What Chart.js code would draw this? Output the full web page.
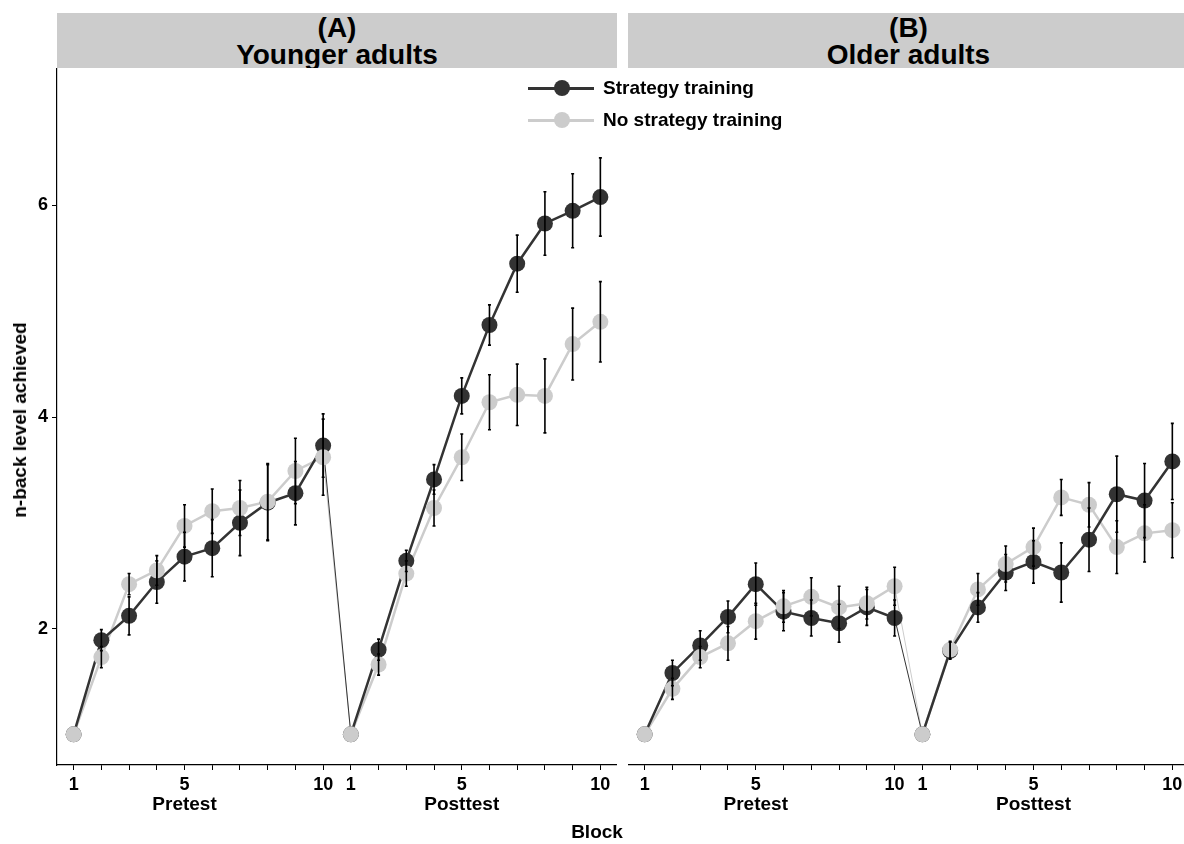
<!DOCTYPE html>
<html lang="en">
<head>
    <meta charset="UTF-8">
    <title>n-back level achieved by block</title>
    <script src="https://cdn.jsdelivr.net/npm/chart.js"></script>
    <style>
        body {
            margin: 0;
            width: 1184px;
            height: 844px;
            overflow: hidden;
            background: #fff;
            font-family: "Liberation Sans", Arial, sans-serif;
            font-weight: bold;
            color: #000;
            position: relative;
        }
        canvas { position: absolute; top: 68px; }
        #chartA { left: 0; }
        #chartB { left: 628px; }
        .strip {
            position: absolute;
            top: 13px;
            height: 55px;
            background: #cccccc;
            overflow: hidden;
            text-align: center;
            font-size: 28px;
            line-height: 27px;
            padding-top: 1px;
            box-sizing: border-box;
        }
        #stripA { left: 57px; width: 560px; }
        #stripB { left: 628px; width: 561px; }
        #yTitle {
            position: absolute;
            left: 20px;
            top: 420px;
            transform: translate(-50%, -50%) rotate(-90deg);
            font-size: 19px;
            white-space: nowrap;
        }
        #xTitle {
            position: absolute;
            left: 597px;
            top: 832px;
            transform: translate(-50%, -50%);
            font-size: 19px;
        }
        .legend-row {
            position: absolute;
            left: 528px;
            height: 20px;
            display: flex;
            align-items: center;
            font-size: 19px;
            white-space: nowrap;
        }
        .key {
            position: relative;
            width: 66px;
            height: 20px;
            margin-right: 9px;
        }
        .key .ln { position: absolute; left: 0; right: 0; top: 9px; height: 2.5px; }
        .key .pt { position: absolute; left: 26px; top: 2px; width: 16px; height: 16px; border-radius: 50%; }
    </style>
</head>
<body>
    <div class="strip" id="stripA">(A)<br>Younger adults</div>
    <div class="strip" id="stripB">(B)<br>Older adults</div>

    <canvas id="chartA" width="617" height="776"></canvas>
    <canvas id="chartB" width="561" height="776"></canvas>

    <div class="legend-row" style="top:78px">
        <div class="key"><div class="ln" style="background:#333333"></div><div class="pt" style="background:#333333"></div></div>
        <span>Strategy training</span>
    </div>
    <div class="legend-row" style="top:110px">
        <div class="key"><div class="ln" style="background:#cccccc"></div><div class="pt" style="background:#cccccc"></div></div>
        <span>No strategy training</span>
    </div>

    <div id="yTitle">n-back level achieved</div>
    <div id="xTitle">Block</div>

    <script>
        // blocks per test phase, 20 positions along the x axis
        const phases = ['Pretest', 'Posttest'];
        const blocks = [1, 2, 3, 4, 5, 6, 7, 8, 9, 10];
        const labeledBlocks = [1, 5, 10];

        // means, pretest blocks 1-10 then posttest blocks 1-10
        const youngStrategy   = [1.00, 1.89, 2.12, 2.44, 2.68, 2.76, 3.00, 3.19, 3.28, 3.73,
                                 1.00, 1.80, 2.64, 3.41, 4.20, 4.87, 5.45, 5.83, 5.95, 6.08];
        const youngNoStrategy = [1.00, 1.73, 2.42, 2.55, 2.97, 3.11, 3.14, 3.20, 3.49, 3.62,
                                 1.00, 1.66, 2.52, 3.14, 3.62, 4.14, 4.21, 4.20, 4.69, 4.90];
        const olderStrategy   = [1.00, 1.58, 1.84, 2.11, 2.42, 2.16, 2.10, 2.05, 2.20, 2.10,
                                 1.00, 1.79, 2.20, 2.53, 2.63, 2.53, 2.84, 3.27, 3.21, 3.58];
        const olderNoStrategy = [1.00, 1.43, 1.73, 1.86, 2.07, 2.21, 2.30, 2.20, 2.24, 2.40,
                                 1.00, 1.80, 2.37, 2.61, 2.77, 3.24, 3.17, 2.77, 2.90, 2.93];

        // standard errors (half length of the error bars)
        const youngStrategySE   = [0, 0.10, 0.18, 0.20, 0.23, 0.27, 0.31, 0.36, 0.30, 0.30,
                                   0, 0.10, 0.10, 0.14, 0.17, 0.19, 0.27, 0.30, 0.35, 0.37];
        const youngNoStrategySE = [0, 0.10, 0.10, 0.14, 0.20, 0.21, 0.26, 0.36, 0.31, 0.36,
                                   0, 0.10, 0.12, 0.17, 0.22, 0.26, 0.29, 0.35, 0.34, 0.38];
        const olderStrategySE   = [0, 0.12, 0.14, 0.15, 0.20, 0.18, 0.17, 0.18, 0.17, 0.17,
                                   0, 0.08, 0.14, 0.17, 0.20, 0.28, 0.30, 0.36, 0.35, 0.36];
        const olderNoStrategySE = [0, 0.10, 0.10, 0.16, 0.17, 0.15, 0.18, 0.20, 0.15, 0.18,
                                   0, 0.08, 0.15, 0.17, 0.18, 0.17, 0.21, 0.25, 0.27, 0.26];

        const yTicks = [2, 4, 6];

        const DARK = '#333333';
        const LIGHT = '#cccccc';
        const FONT = '"Liberation Sans", Arial, sans-serif';

        // x position table: one slot per phase/block
        const slots = [];
        phases.forEach(phase => blocks.forEach(b => slots.push({ phase, block: b })));
        const xPos = slots.map((s, i) => i + 1);

        function tickLabel(value) {
            const s = slots[value - 1];
            if (!s || !labeledBlocks.includes(s.block)) return '';
            return String(s.block);
        }

        const errorBars = {
            id: 'errorBars',
            afterDatasetsDraw(chart, args, opts) {
                const ctx = chart.ctx;
                const x = chart.scales.x, y = chart.scales.y;
                ctx.save();
                ctx.strokeStyle = '#000';
                ctx.lineWidth = 1.6;
                opts.sets.forEach(set => {
                    set.mean.forEach((m, i) => {
                        const e = set.se[i];
                        if (!e) return;
                        const px = x.getPixelForValue(xPos[i]);
                        const top = y.getPixelForValue(m + e);
                        const bot = y.getPixelForValue(m - e);
                        ctx.beginPath();
                        ctx.moveTo(px, top); ctx.lineTo(px, bot);
                        ctx.moveTo(px - 1.5, top); ctx.lineTo(px + 1.5, top);
                        ctx.moveTo(px - 1.5, bot); ctx.lineTo(px + 1.5, bot);
                        ctx.stroke();
                    });
                });
                ctx.restore();
            }
        };

        // phase names under block 5 of each phase
        const phaseLabels = {
            id: 'phaseLabels',
            afterDraw(chart) {
                const ctx = chart.ctx;
                const x = chart.scales.x;
                ctx.save();
                ctx.fillStyle = '#000';
                ctx.font = 'bold 19px ' + FONT;
                ctx.textAlign = 'center';
                ctx.textBaseline = 'middle';
                slots.forEach((s, i) => {
                    if (s.block !== 5) return;
                    ctx.fillText(s.phase, x.getPixelForValue(xPos[i]), x.top + 40);
                });
                ctx.restore();
            }
        };

        function lineSet(values, color) {
            return {
                data: values.map((v, i) => ({ x: xPos[i], y: v })),
                borderColor: color,
                borderWidth: 2.5,
                pointRadius: 0,
                showLine: true,
                order: 3,
                segment: {
                    // the drop from pretest block 10 to posttest block 1 is drawn thin
                    borderWidth: c => c.p0DataIndex === 9 ? 1 : 2.5
                }
            };
        }

        function pointSet(values, color, order) {
            return {
                data: values.map((v, i) => ({ x: xPos[i], y: v })),
                showLine: false,
                pointRadius: 8,
                pointBackgroundColor: color,
                pointBorderWidth: 0,
                borderColor: color,
                order: order
            };
        }

        function makeChart(id, strat, stratSE, noStrat, noStratSE, showY) {
            const ctx = document.getElementById(id).getContext('2d');
            return new Chart(ctx, {
                type: 'line',
                data: {
                    datasets: [
                        lineSet(strat, DARK),
                        lineSet(noStrat, LIGHT),
                        pointSet(strat, DARK, 2),
                        pointSet(noStrat, LIGHT, 1)
                    ]
                },
                options: {
                    responsive: false,
                    animation: false,
                    layout: { padding: 0, autoPadding: false },
                    plugins: {
                        legend: { display: false },
                        tooltip: { enabled: false },
                        errorBars: {
                            sets: [
                                { mean: strat, se: stratSE },
                                { mean: noStrat, se: noStratSE }
                            ]
                        }
                    },
                    scales: {
                        x: {
                            type: 'linear',
                            min: 0.4,
                            max: 20.6,
                            afterBuildTicks: axis => { axis.ticks = xPos.map(v => ({ value: v })); },
                            afterFit: axis => {
                                axis.height = 79;
                                axis.paddingLeft = 0;
                                axis.paddingRight = 0;
                            },
                            grid: { drawOnChartArea: false, drawTicks: true, tickLength: 5, color: '#000', lineWidth: 1 },
                            border: { display: true, color: '#000', width: 1.2 },
                            ticks: {
                                autoSkip: false,
                                maxRotation: 0,
                                minRotation: 0,
                                padding: 5,
                                color: '#000',
                                font: { family: FONT, size: 18, weight: 'bold', lineHeight: '20px' },
                                callback: v => tickLabel(v)
                            }
                        },
                        y: {
                            display: showY,
                            min: 0.71,
                            max: 7.30,
                            afterBuildTicks: axis => { axis.ticks = yTicks.map(v => ({ value: v })); },
                            afterFit: axis => {
                                if (showY) axis.width = 57;
                                axis.paddingTop = 0;
                                axis.paddingBottom = 0;
                            },
                            grid: { drawOnChartArea: false, drawTicks: true, tickLength: 5, color: '#000', lineWidth: 1 },
                            border: { display: true, color: '#000', width: 1.2 },
                            ticks: {
                                padding: 4,
                                color: '#000',
                                font: { family: FONT, size: 18, weight: 'bold' }
                            }
                        }
                    }
                },
                plugins: [errorBars, phaseLabels]
            });
        }

        makeChart('chartA', youngStrategy, youngStrategySE, youngNoStrategy, youngNoStrategySE, true);
        makeChart('chartB', olderStrategy, olderStrategySE, olderNoStrategy, olderNoStrategySE, false);
    </script>
</body>
</html>
